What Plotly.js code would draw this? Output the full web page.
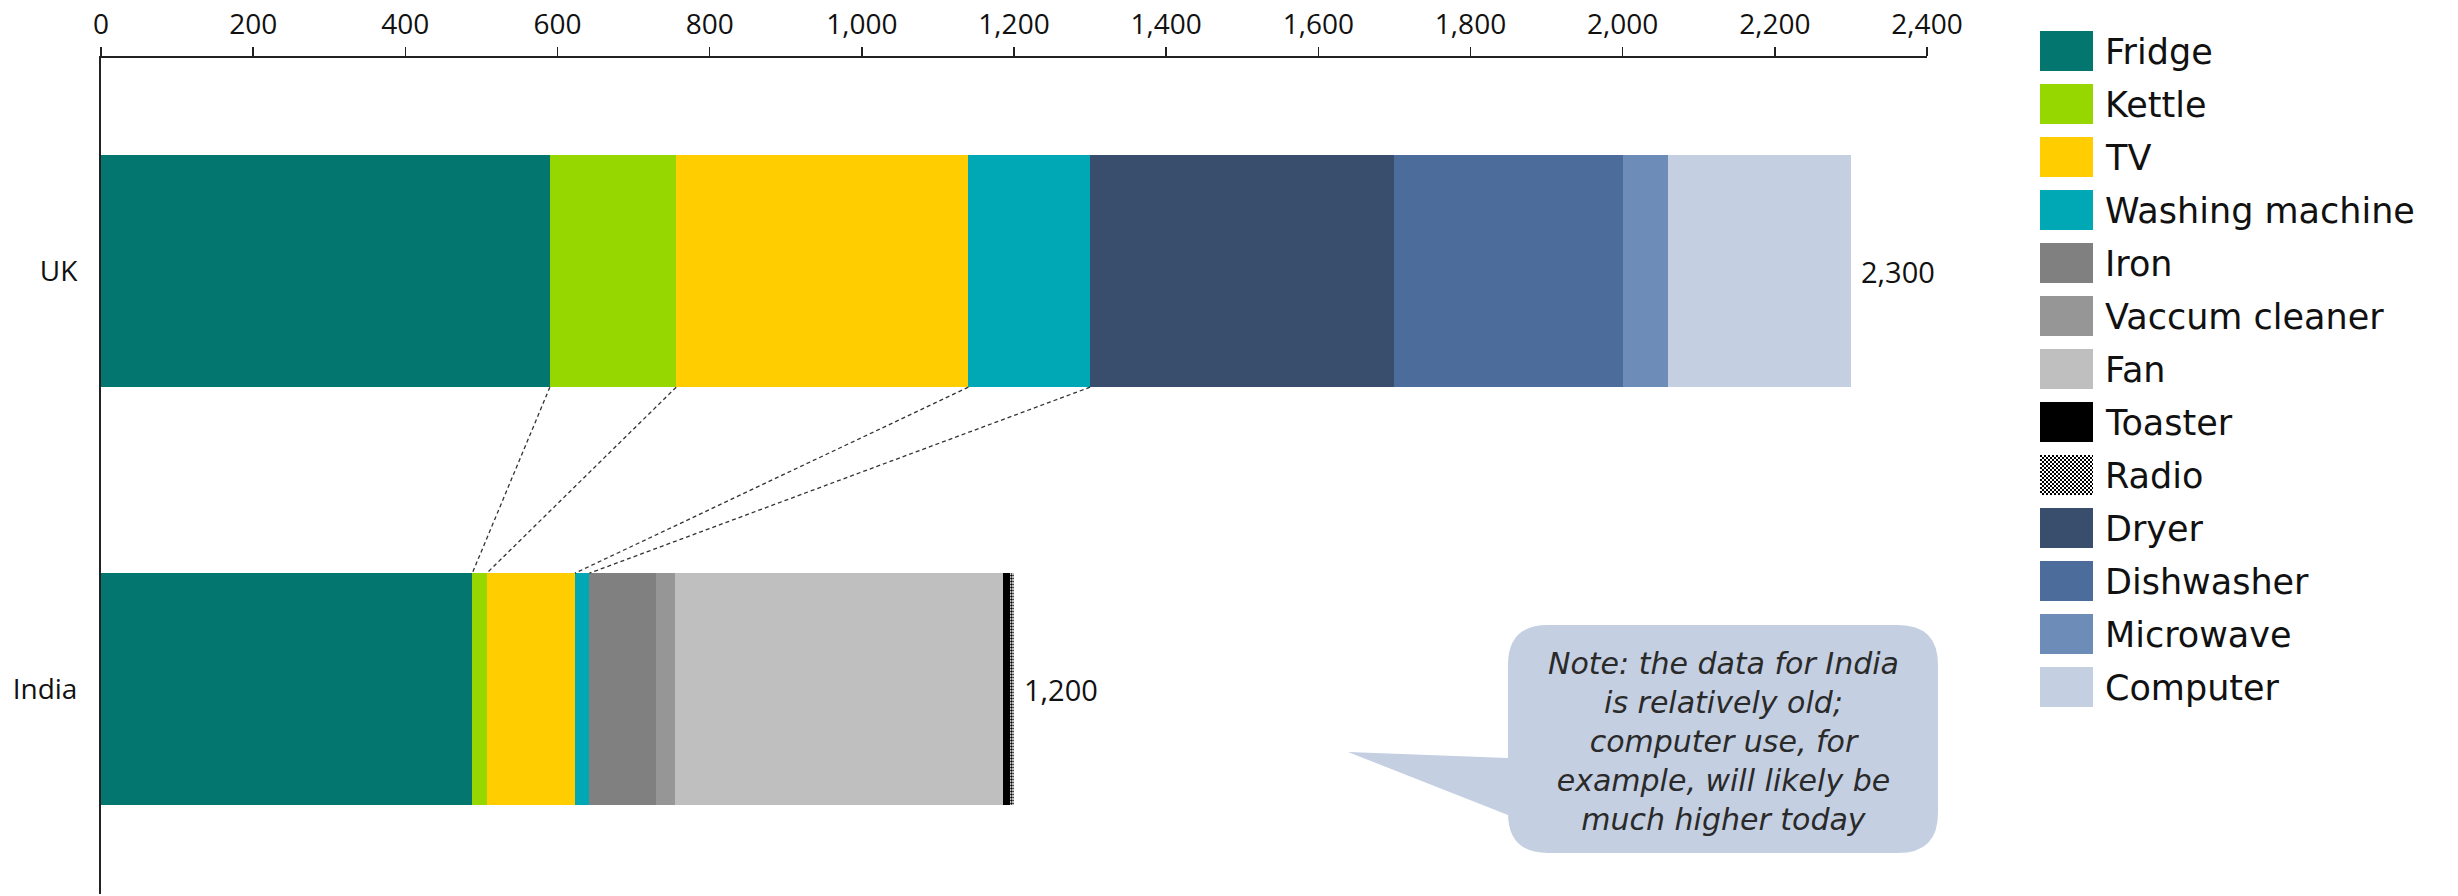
<!DOCTYPE html>
<html>
<head>
<meta charset="utf-8">
<script src="https://cdn.plot.ly/plotly-3.0.1.min.js"></script>
<style>
  html, body { margin: 0; padding: 0; background: #fff; }
  #chart { width: 2458px; height: 896px; }
</style>
</head>
<body>
<div id="chart"></div>
<script>
// Household electricity use per appliance (kWh per year)
const countries = ['UK', 'India'];
const appliances = ['Fridge', 'Kettle', 'TV', 'Washing machine', 'Iron', 'Vaccum cleaner', 'Fan',
                    'Toaster', 'Radio', 'Dryer', 'Dishwasher', 'Microwave', 'Computer'];
const ukValues    = [590, 166, 384, 160, 0, 0, 0, 0, 0, 400, 300, 60, 240];
const indiaValues = [488, 19, 116, 19, 88, 24, 432, 9, 5, 0, 0, 0, 0];
const applianceColors = ['#03776f', '#97d700', '#ffcd00', '#00a8b5', '#808080', '#969696', '#bfbfbf',
                         '#000000', '#ffffff', '#394e6d', '#4c6c9b', '#6e8cb8', '#c4cfe1'];
const xTicks = [0, 200, 400, 600, 800, 1000, 1200, 1400, 1600, 1800, 2000, 2200, 2400];
// segments joined by dashed guides between the two bars
const linkedCount = 4;
const noteLines = ['Note: the data for India', 'is relatively old;', 'computer use, for',
                   'example, will likely be', 'much higher today'];

const FONT = 'Open Sans, Noto Sans, sans-serif';
const WIDE_FONT = 'DejaVu Sans, Open Sans, sans-serif';
const BAR_W = 0.555;
const W = 2458, H = 896;
const M = { l: 101, r: W - 1927, t: 58, b: 2 };
const PW = W - M.l - M.r, PH = H - M.t - M.b;
const px = x => (x - M.l) / PW;          // page pixel -> paper x
const py = y => 1 - (y - M.t) / PH;      // page pixel -> paper y

const traces = appliances.map((name, i) => {
  const t = {
    type: 'bar', orientation: 'h', name: name,
    y: countries, x: [ukValues[i], indiaValues[i]],
    width: BAR_W,
    marker: { color: applianceColors[i], line: { width: 0 } },
    showlegend: false, hoverinfo: 'skip'
  };
  if (name === 'Radio') {
    t.marker.pattern = { shape: '.', size: 3, solidity: 0.5, fgcolor: '#000', bgcolor: '#fff', fillmode: 'replace' };
  }
  return t;
});

const sum = arr => arr.reduce((a, b) => a + b, 0);
const totals = [sum(ukValues), sum(indiaValues)];

const shapes = [];
const annotations = [];
const images = [];

// dashed guides from segment ends on the UK bar to the matching ends on the India bar
for (let k = 0; k < linkedCount; k++) {
  const ukEnd = sum(ukValues.slice(0, k + 1));
  const inEnd = sum(indiaValues.slice(0, k + 1));
  shapes.push({
    type: 'line', xref: 'x', yref: 'y',
    x0: ukEnd, y0: 1 - BAR_W / 2, x1: inEnd, y1: BAR_W / 2,
    line: { color: '#333', width: 1.3, dash: '4px,3px' }, layer: 'above'
  });
}

// totals at the end of each bar
countries.forEach((c, i) => {
  annotations.push({
    xref: 'x', yref: 'y', x: totals[i], y: c, xanchor: 'left', yanchor: 'middle',
    xshift: 8, showarrow: false, text: totals[i].toLocaleString('en-US'),
    font: { family: FONT, size: 29, color: '#111' }
  });
});

// legend column
const LEG = { x0: 2040, x1: 2093, top: 31, h: 40, step: 53, textX: 2103 };
const checker = "<svg xmlns='http://www.w3.org/2000/svg' width='53' height='40'>" +
  "<defs><pattern id='c' width='4' height='4' patternUnits='userSpaceOnUse'>" +
  "<rect width='4' height='4' fill='white'/><rect width='2' height='2' fill='black'/>" +
  "<rect x='2' y='2' width='2' height='2' fill='black'/></pattern></defs>" +
  "<rect width='53' height='40' fill='url(#c)'/></svg>";
appliances.forEach((name, i) => {
  const top = LEG.top + i * LEG.step;
  if (name === 'Radio') {
    images.push({
      source: 'data:image/svg+xml;charset=utf-8,' + encodeURIComponent(checker),
      xref: 'paper', yref: 'paper', x: px(LEG.x0), y: py(top),
      sizex: px(LEG.x1) - px(LEG.x0), sizey: py(top) - py(top + LEG.h),
      xanchor: 'left', yanchor: 'top', sizing: 'stretch', layer: 'above'
    });
  } else {
    shapes.push({
      type: 'rect', xref: 'paper', yref: 'paper',
      x0: px(LEG.x0), x1: px(LEG.x1), y0: py(top), y1: py(top + LEG.h),
      fillcolor: applianceColors[i], line: { width: 0 }
    });
  }
  annotations.push({
    xref: 'paper', yref: 'paper', x: px(LEG.textX), y: py(top + LEG.h / 2 + 1),
    xanchor: 'left', yanchor: 'middle', showarrow: false, text: name,
    font: { family: WIDE_FONT, size: 35, color: '#111' }
  });
});

// speech-bubble note
const B = { L: 1508, R: 1938, T: 625, Bt: 853, r: 40, tipX: 1348, tipY: 752, j1: 758, j2: 815 };
const P = (x, y) => px(x).toFixed(5) + ',' + py(y).toFixed(5);
const bubble = [
  'M', P(B.L + B.r, B.T),
  'L', P(B.R - B.r, B.T),
  'Q', P(B.R, B.T), P(B.R, B.T + B.r),
  'L', P(B.R, B.Bt - B.r),
  'Q', P(B.R, B.Bt), P(B.R - B.r, B.Bt),
  'L', P(B.L + B.r, B.Bt),
  'Q', P(B.L, B.Bt), P(B.L, B.Bt - B.r),
  'L', P(B.L, B.j2),
  'L', P(B.tipX, B.tipY),
  'L', P(B.L, B.j1),
  'L', P(B.L, B.T + B.r),
  'Q', P(B.L, B.T), P(B.L + B.r, B.T),
  'Z'
].join(' ');
shapes.push({ type: 'path', xref: 'paper', yref: 'paper', path: bubble,
              fillcolor: '#c4cfe1', line: { width: 0 }, layer: 'above' });
annotations.push({
  xref: 'paper', yref: 'paper', x: px(1723), y: py(741), xanchor: 'center', yanchor: 'middle',
  showarrow: false, align: 'center', text: noteLines.join('<br>'),
  font: { family: WIDE_FONT, size: 30, color: '#2a2a2a', style: 'italic' }
});

const layout = {
  width: W, height: H,
  margin: M,
  paper_bgcolor: '#fff', plot_bgcolor: '#fff',
  barmode: 'stack',
  hovermode: false,
  showlegend: false,
  font: { family: FONT, color: '#111' },
  xaxis: {
    side: 'top', range: [0, 2400], tickvals: xTicks, tickformat: ',',
    showgrid: false, zeroline: false,
    showline: true, linecolor: '#222', linewidth: 2.5,
    ticks: 'outside', ticklen: 9, tickwidth: 1.5, tickcolor: '#222',
    ticklabelstandoff: 1,
    tickfont: { family: FONT, size: 28, color: '#111' }
  },
  yaxis: {
    type: 'category', categoryorder: 'array', categoryarray: ['India', 'UK'],
    range: [-0.49, 1.51], showgrid: false, zeroline: false,
    showline: true, linecolor: '#222', linewidth: 2,
    ticks: '', ticklabelstandoff: 16,
    tickfont: { family: FONT, size: 28, color: '#111' }
  },
  shapes: shapes,
  annotations: annotations,
  images: images
};

Plotly.newPlot('chart', traces, layout, { staticPlot: true, displayModeBar: false });
</script>
</body>
</html>
